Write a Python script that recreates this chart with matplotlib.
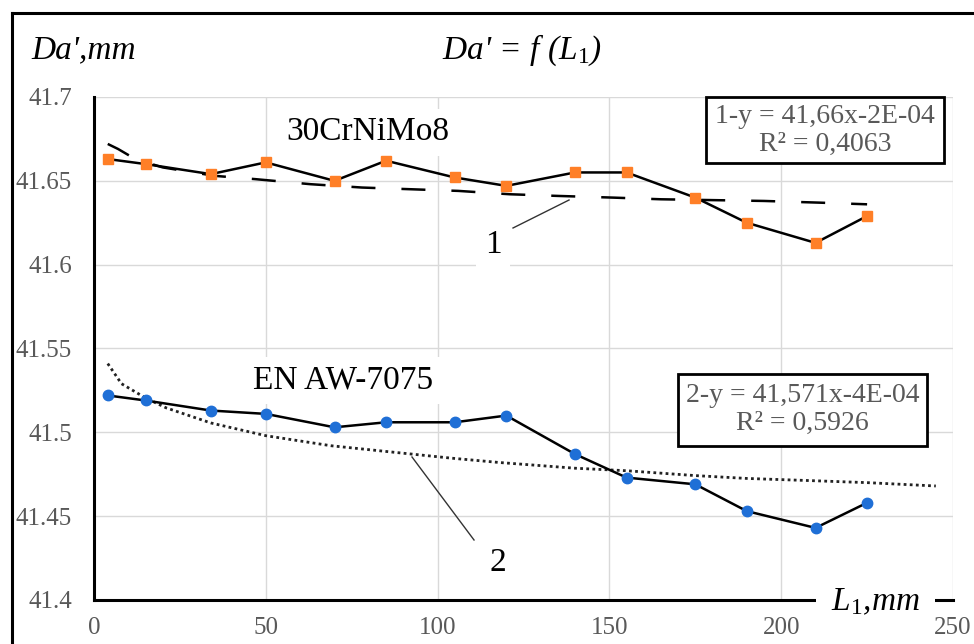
import numpy as np
import matplotlib.pyplot as plt
from matplotlib.lines import Line2D
from matplotlib.patches import Rectangle
from matplotlib.ticker import FuncFormatter, MultipleLocator

plt.rcParams['font.family'] = ['Liberation Serif', 'DejaVu Serif']
plt.rcParams['mathtext.fontset'] = 'custom'
plt.rcParams['mathtext.it'] = 'Liberation Serif:italic'
plt.rcParams['mathtext.rm'] = 'Liberation Serif'

# Datos medidos
L1 = [4, 15, 34, 50, 70, 85, 105, 120, 140, 155, 175, 190, 210, 225]
da_steel = [41.663, 41.660, 41.654, 41.661, 41.650, 41.662, 41.652, 41.647,
            41.655, 41.655, 41.640, 41.625, 41.613, 41.629]
da_alu = [41.522, 41.519, 41.513, 41.511, 41.503, 41.506, 41.506, 41.510,
          41.487, 41.473, 41.469, 41.453, 41.443, 41.458]

# Lineas de tendencia
trend1_x = [4, 7, 12, 20, 35, 47, 63, 78, 92, 106, 121, 135, 151, 165, 180, 195, 211, 225]
trend1_y = [41.672, 41.669, 41.663, 41.658, 41.653, 41.651, 41.648, 41.646, 41.645,
            41.644, 41.642, 41.641, 41.640, 41.639, 41.6385, 41.638, 41.637, 41.636]
trend2_x = [4, 8, 15, 21, 34, 50, 69, 85, 104, 118, 140, 155, 175, 190, 210, 225, 245]
trend2_y = [41.541, 41.529, 41.5205, 41.5146, 41.5056, 41.498, 41.492, 41.4886, 41.4846,
            41.482, 41.4786, 41.4771, 41.4742, 41.4725, 41.4711, 41.470, 41.468]

eq1 = "1-y = 41,66x-2E-04\nR² = 0,4063"
eq2 = "2-y = 41,571x-4E-04\nR² = 0,5926"

fig = plt.figure(figsize=(9.74, 6.44), dpi=100)
ax = fig.add_axes([94/974, 1 - 600/644, 859/974, 503/644])

# marco exterior
fig.add_artist(Line2D([12/974, 12/974], [-0.1, 1 - 13/644], color='black', lw=2.2))
fig.add_artist(Line2D([12/974, 1.1], [1 - 13/644, 1 - 13/644], color='black', lw=2.2))

grey = '#595959'
ax.plot(trend1_x, trend1_y, color='black', lw=1.8, dashes=(9.6, 10.4), zorder=2)
ax.plot(trend2_x, trend2_y, color='#222222', lw=2.0, dashes=(1, 1.2), zorder=2)
ax.plot(L1, da_steel, color='black', lw=1.8, marker='s', ms=7.5,
        mfc='#FF7F27', mec='#FF7F27', zorder=3)
ax.plot(L1, da_alu, color='black', lw=1.8, marker='o', ms=7.5,
        mfc='#1F6FD6', mec='#1F6FD6', zorder=3)

ax.set_xlim(0, 250)
ax.set_ylim(41.4, 41.7)
ax.xaxis.set_major_locator(MultipleLocator(50))
ax.yaxis.set_major_locator(MultipleLocator(0.05))
ax.yaxis.set_major_formatter(FuncFormatter(lambda v, p: f"{v:g}"))
ax.tick_params(length=0, labelsize=18, labelcolor=grey)
ax.tick_params(axis='y', pad=16)
ax.tick_params(axis='x', pad=12)
ax.grid(True, color='#D9D9D9', lw=1)
ax.set_axisbelow(True)
for s in ['top', 'right']:
    ax.spines[s].set_visible(False)
for s in ['left', 'bottom']:
    ax.spines[s].set_linewidth(2.2)

# etiquetas de materiales
ax.text(0.319, 0.930, "30CrNiMo8", transform=ax.transAxes, fontsize=24,
        ha='center', va='center', zorder=1.5,
        bbox=dict(facecolor='white', edgecolor='none', pad=6))
ax.text(0.290, 0.437, "EN AW-7075", transform=ax.transAxes, fontsize=24,
        ha='center', va='center', zorder=1.5,
        bbox=dict(facecolor='white', edgecolor='none', pad=6))

# llamadas 1 y 2
ax.text(0.4645, 0.706, "1", transform=ax.transAxes, fontsize=24,
        ha='center', va='center', zorder=1.5,
        bbox=dict(facecolor='white', edgecolor='none', pad=6))
ax.plot([0.4878, 0.5530], [0.7396, 0.7952], transform=ax.transAxes, color='#333333', lw=1)
ax.text(0.470, 0.0736, "2", transform=ax.transAxes, fontsize=24,
        ha='center', va='center', zorder=1.5)
ax.plot([0.3702, 0.4424], [0.2843, 0.1193], transform=ax.transAxes, color='#333333', lw=1)

# ecuaciones
ax.add_patch(Rectangle((0.7125, 0.8688), 0.277, 0.1312, transform=ax.transAxes,
                       facecolor='white', edgecolor='black', lw=2, clip_on=False, zorder=4))
ax.text(0.851, 0.934, eq1, transform=ax.transAxes, fontsize=20, color=grey,
        ha='center', va='center', linespacing=1.15, zorder=5)
ax.add_patch(Rectangle((0.680, 0.306), 0.290, 0.143, transform=ax.transAxes,
                       facecolor='white', edgecolor='black', lw=2, clip_on=False, zorder=4))
ax.text(0.825, 0.378, eq2, transform=ax.transAxes, fontsize=20, color=grey,
        ha='center', va='center', linespacing=1.15, zorder=5)

# titulos de ejes
ax.text(0.910, -0.004, r"L$_{\mathit{1}}$,mm", transform=ax.transAxes, fontsize=24,
        style='italic', ha='center', va='center', zorder=6, clip_on=False,
        bbox=dict(boxstyle='square,pad=0.45', facecolor='white', edgecolor='none'))
fig.text(84/974, 1 - 50/644, "Da',mm", fontsize=24, style='italic',
         ha='center', va='center')
fig.text(522/974, 1 - 50/644, r"Da' = f (L$_{\mathit{1}}$)", fontsize=24, style='italic',
         ha='center', va='center')

fig.savefig("out.png", dpi=100)
